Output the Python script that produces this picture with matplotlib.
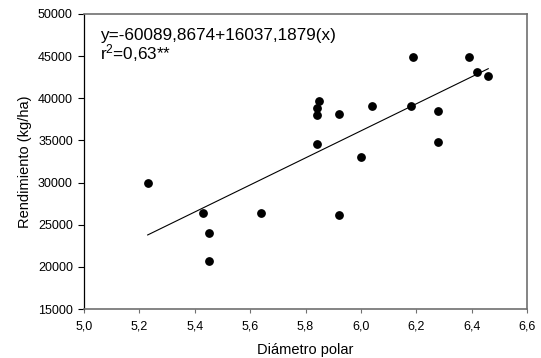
import numpy as np
import matplotlib.pyplot as plt

plt.rcParams['font.family'] = ['Liberation Sans', 'DejaVu Sans']
plt.rcParams['mathtext.fontset'] = 'custom'
plt.rcParams['mathtext.rm'] = 'Liberation Sans'
plt.rcParams['mathtext.it'] = 'Liberation Sans'

diametro = [5.23, 5.43, 5.45, 5.45, 5.64, 5.92, 6.00, 6.19, 6.39, 6.42,
            6.46, 5.85, 5.84, 5.84, 5.92, 6.04, 6.18, 6.28, 5.84, 6.28]
rendimiento = [30000, 26400, 24000, 20700, 26400, 26100, 33000, 44900, 44900, 43100,
               42600, 39700, 38800, 38000, 38100, 39100, 39100, 38500, 34600, 34800]

intercepto = -60089.8674
pendiente = 16037.1879

fig = plt.figure(figsize=(5.41, 3.58), dpi=100)
ax = fig.add_axes([84 / 541, 1 - 309 / 358, 443 / 541, 295 / 358])

ax.scatter(diametro, rendimiento, s=28, color='black', zorder=3)
xl = np.array([min(diametro), max(diametro)])
ax.plot(xl, intercepto + pendiente * xl, color='black', linewidth=0.8)

ax.set_xlim(5.0, 6.6)
ax.set_ylim(15000, 50000)
ax.set_xticks(np.arange(5.0, 6.61, 0.2))
ax.set_xticklabels([f"{v:.1f}".replace('.', ',') for v in np.arange(5.0, 6.61, 0.2)])
ax.set_yticks(range(15000, 50001, 5000))
ax.tick_params(direction='out', length=4, width=0.8, labelsize=9, colors='black')
ax.tick_params(axis='x', pad=5, length=3, color='#707070')
ax.tick_params(axis='y', pad=4)

for side in ['top', 'right', 'bottom']:
    ax.spines[side].set_color('#707070')
    ax.spines[side].set_linewidth(1.2)
ax.spines['left'].set_color('black')
ax.spines['left'].set_linewidth(0.9)

ax.set_xlabel("Diámetro polar", fontsize=10.5, labelpad=8)
ax.set_ylabel("Rendimiento (kg/ha)", fontsize=10.5, labelpad=4)

ax.text(0.036, 0.912, "y=-60089,8674+16037,1879(x)", transform=ax.transAxes,
        fontsize=12.3, va='baseline', ha='left')
ax.text(0.036, 0.847, "r$^2$=0,63**", transform=ax.transAxes,
        fontsize=12.3, va='baseline', ha='left')

fig.savefig("out.png", dpi=100)
